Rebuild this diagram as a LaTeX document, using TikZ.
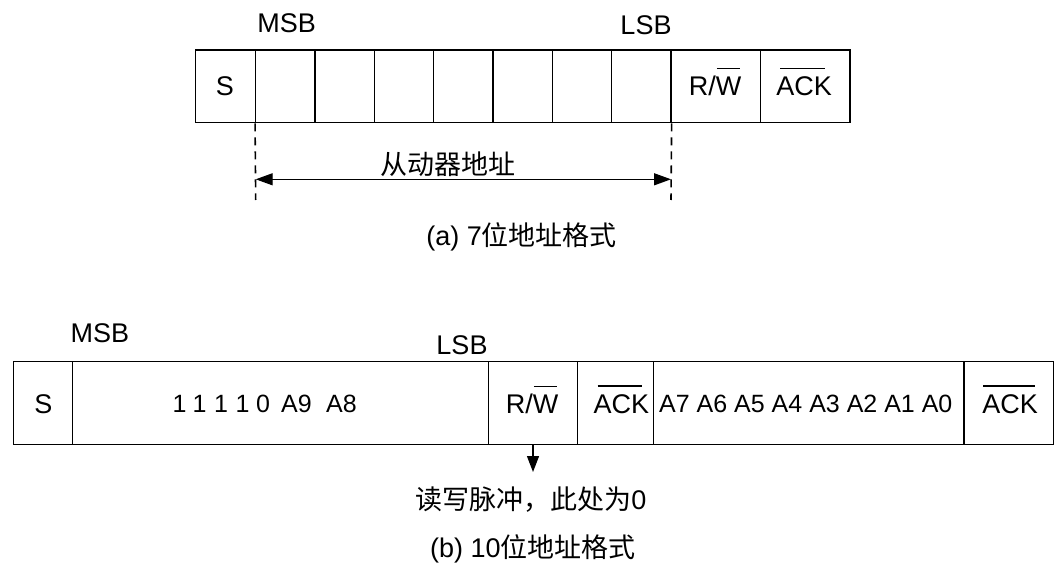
\documentclass[tikz,border=0pt]{standalone}
\usepackage{fontspec}
\setmainfont{Liberation Sans}
\newfontfamily\cjk{Noto Sans CJK SC}
\usetikzlibrary{arrows.meta}
% overline: #1 left inset, #2 right inset, #3 text
\newcommand\ovl[3]{\leavevmode\setbox0\hbox{#3}\vbox{\offinterlineskip\hbox to \wd0{\hskip#1\leaders\hrule height 1.3pt\hfill\hskip#2}\kern7.5pt\box0}}
\begin{document}
\begin{tikzpicture}[x=1pt,y=-1pt,
  cell/.style={draw=black,line width=1.3pt,inner sep=0pt,minimum height=#1pt},
  lbl/.style={inner sep=0pt,anchor=base,font=\fontsize{27}{30}\selectfont},
  bit/.style={inner sep=0pt,anchor=base,font=\fontsize{25}{28}\selectfont},
  zh/.style={inner sep=0pt,anchor=center,font=\fontsize{27}{30}\selectfont},
  dim/.style={line width=1.6pt,dash pattern=on 8pt off 6pt},
  arr/.style={line width=1.3pt,-{Triangle[length=16pt,width=12pt]}},
  darr/.style={line width=1.3pt,{Triangle[length=17pt,width=12pt]}-{Triangle[length=17pt,width=12pt]}}]
\useasboundingbox (0,0) rectangle (1058,564);
% ---- (a) 7-bit address ----
\node[cell=72.7,minimum width=60pt] (tS) at (225.7,86.35) {};
\foreach \i in {1,...,7}{
  \node[cell=72.7,minimum width=59.33pt] (tb\i) at ({255.7+(\i-0.5)*59.33},86.35) {};
}
\node[cell=72.7,minimum width=89.3pt] (tRW) at (715.65,86.35) {};
\node[cell=72.7,minimum width=89.7pt] (tACK) at (805.15,86.35) {};
\node[lbl] (tSl) at (225,95.3) {S};
\node[lbl] (tRWl) at (715,95.3) {R/\ovl{1pt}{1pt}{W}};
\node[lbl] (tACKl) at (804,95.3) {\ovl{4pt}{7pt}{ACK}};
\node[lbl] (tMSB) at (286.7,32.7) {MSB};
\node[lbl] (tLSB) at (646,35) {LSB};
\coordinate (dL) at (255.7,200);
\coordinate (dR) at (671,200);
\draw[dim] (tb1.south west) -- (dL);
\draw[dim] (tb7.south east) -- (dR);
\coordinate (aL) at (255.7,179.3);
\coordinate (aR) at (671,179.3);
\draw[darr] (aL) -- (aR);
\node[zh] (tAddr) at (447.5,164) {\cjk 从动器地址};
\node[zh] (capA) at (521.7,237) {(a) 7{\cjk 位地址格式}};
% ---- (b) 10-bit address ----
\node[cell=82.6,minimum width=59.4pt] (bS) at (43,403) {};
\node[cell=82.6,minimum width=415.6pt] (bBits) at (280.5,403) {};
\node[cell=82.6,minimum width=89.4pt] (bRW) at (533,403) {};
\node[cell=82.6,minimum width=75.6pt] (bACK) at (615.5,403) {};
\node[cell=82.6,minimum width=310.7pt] (bA) at (808.65,403) {};
\node[cell=82.6,minimum width=89.3pt] (bACK2) at (1008.65,403) {};
\node[lbl] (bSl) at (43.3,413) {S};
\node[lbl] (bRWl) at (532,413) {R/\ovl{1pt}{1pt}{W}};
\node[lbl] (bACKl) at (621.3,413) {\ovl{4pt}{7pt}{ACK}};
\node[lbl] (bACK2l) at (1010,413) {\ovl{1pt}{3pt}{ACK}};
\node[lbl] (bMSB) at (100,342.7) {MSB};
\node[lbl] (bLSB) at (462,354) {LSB};
\foreach \t/\x [count=\i] in {1/179.5,1/199.5,1/221,1/242.5,0/263,A9/296.5,A8/341.5}{
  \node[bit] (bit\i) at (\x,412) {\t};
}
\node[bit] (bAl) at (805.8,412) {A7 A6 A5 A4 A3 A2 A1 A0};
\coordinate (rwEnd) at (533,472);
\draw[arr] (bRW.south) -- (rwEnd);
\node[zh] (rwNote) at (530.8,500) {{\cjk 读写脉冲，此处为}0};
\node[zh] (capB) at (533,548.5) {(b) 10{\cjk 位地址格式}};
\end{tikzpicture}
\end{document}
